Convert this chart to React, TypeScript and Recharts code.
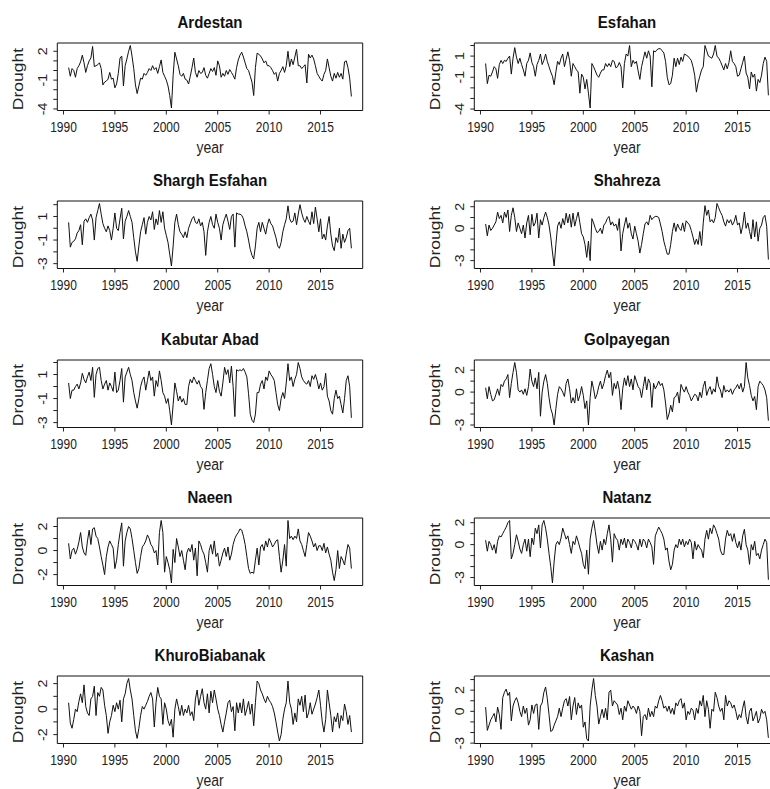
import React from 'react';
import { LineChart, Line, XAxis, YAxis, ReferenceArea } from 'recharts';

// Bimonthly drought index per station, Jul 1990 .. Jan 2018 (one row per year)
const START = 1990.5;
const STEP = 1 / 6;
const yearTicks = [1990, 1995, 2000, 2005, 2010, 2015];

const ardestan = [
  [0.3, -0.6, 0.2],
  [0.0, -0.7, 0.2, 0.5, 0.9, 1.6],
  [0.8, -0.2, 0.5, 1.0, 1.3, 2.5],
  [0.4, 0.5, 0.6, 0.8, 0.2, -1.5],
  [-1.2, -1.1, -0.9, -0.2, -0.9, -0.8],
  [-1.8, -1.4, -0.3, 1.3, 1.5, -1.6],
  [0.5, 1.2, 2.0, 2.6, 1.5, 0.2],
  [-1.5, -2.4, -1.6, -0.8, -0.9, -0.3],
  [-0.5, -0.2, 0.2, 0.0, 0.5, 0.1],
  [0.3, -0.3, 0.4, 1.1, -0.2, -0.6],
  [-1.0, -1.6, -2.6, -3.9, -0.5, 1.9],
  [1.2, 0.5, -0.4, -0.6, -0.3, -0.9],
  [-1.0, -1.4, -0.6, 0.3, 1.3, -0.2],
  [-0.7, 0.0, -0.3, -0.2, 0.3, -0.5],
  [-0.8, -0.3, 0.2, -0.1, 0.3, -0.5],
  [1.0, 0.5, -0.7, -0.3, -0.6, 0.0],
  [-0.4, 0.1, -0.2, -0.5, -0.9, 0.3],
  [1.1, 1.6, 1.9, 1.4, 0.8, 0.2],
  [0.0, -0.6, -1.2, -2.6, 0.3, 1.8],
  [1.7, 1.5, 1.2, 0.8, 1.0, 0.5],
  [0.5, 0.3, 0.0, -0.4, -0.2, -1.1],
  [-0.3, 0.0, 0.4, -0.2, 0.5, 2.0],
  [0.4, 1.2, 0.6, 1.4, 2.2, 0.5],
  [0.5, 0.2, 0.4, 0.6, -1.3, 1.7],
  [1.3, 1.6, 1.2, 0.5, -0.3, -0.6],
  [-0.9, -1.1, -0.4, 0.0, 1.2, 0.3],
  [-0.6, -1.1, -0.3, -0.8, -0.2, -0.7],
  [-0.3, -0.9, 0.9, 1.0, 0.3, -0.8],
  [-2.7],
].flat();

const esfahan = [
  [0.3, -1.6, -0.8],
  [-0.9, -0.5, 0.0, -0.2, -1.1, 0.2],
  [0.6, 0.3, 0.6, 0.5, 0.8, 1.0],
  [-0.7, 0.8, 1.8, 0.9, 0.3, 0.8],
  [0.2, -0.3, -0.9, 0.3, 0.6, 1.3],
  [0.4, 0.0, -0.9, 0.2, 0.6, 1.2],
  [0.2, 0.6, 1.2, 0.5, 0.0, -0.5],
  [-0.9, -1.7, -0.5, 0.5, 0.2, 0.8],
  [1.2, 0.0, 0.7, 1.4, 0.6, -0.9],
  [0.3, 0.0, -0.3, -0.5, -2.5, -0.7],
  [-1.0, -2.1, -1.2, -2.5, -3.9, 0.3],
  [0.0, -0.4, -0.8, -1.0, -0.6, -0.3],
  [-0.3, 0.3, 0.0, 0.3, 0.0, 0.6],
  [0.5, -0.1, 0.0, 0.4, 0.0, -2.0],
  [0.3, 1.2, 1.0, 2.0, 0.0, 0.6],
  [0.3, 0.5, -0.4, -1.2, 0.0, 0.7],
  [1.4, 0.8, 1.5, 1.0, -1.9, 1.5],
  [1.4, 1.6, 1.7, 1.7, 1.5, 1.3],
  [0.5, -1.0, -1.7, -1.6, -0.8, 0.8],
  [0.0, 0.8, 0.2, 0.9, 0.5, 1.2],
  [1.1, 1.0, 0.8, 0.6, 0.0, -0.8],
  [-2.4, -1.5, -0.9, -0.3, 0.0, 2.0],
  [1.5, 1.0, 0.9, 0.8, 1.2, 2.0],
  [1.0, 0.8, 0.5, 0.1, -0.3, 0.3],
  [-0.2, 0.4, 1.5, 0.5, 0.3, 0.0],
  [-0.9, -0.8, -0.2, 0.4, 1.0, -0.6],
  [-1.0, -2.1, -0.5, -1.0, -0.7, -2.3],
  [-1.2, -1.5, -0.8, 0.3, 0.9, 0.5],
  [-2.7],
].flat();

const shargh = [
  [0.5, -1.6, -1.2],
  [-1.1, -0.9, -0.4, -0.2, 0.3, -1.4],
  [0.6, 0.8, 0.5, 0.9, 1.2, 0.7],
  [-1.0, 0.9, 1.5, 2.1, 1.2, 0.4],
  [0.0, -0.3, 0.2, -0.2, -1.0, 0.0],
  [1.3, 0.0, -0.2, 0.8, 1.7, -0.9],
  [0.6, 1.0, 1.5, 1.0, 0.5, -0.8],
  [-2.0, -2.8, -1.5, -0.3, 0.3, 0.9],
  [-0.5, 0.5, 1.0, 0.7, 1.4, -0.1],
  [0.8, 0.3, 1.5, 0.5, 1.4, 0.0],
  [-0.6, -1.2, -2.2, -3.2, -1.5, 0.5],
  [1.2, 0.3, -0.3, -0.5, -0.8, -0.3],
  [-0.8, 0.0, 0.4, 0.8, 1.0, 0.5],
  [0.4, 0.8, 0.2, 0.5, -0.3, -2.3],
  [-0.3, 0.5, 1.0, 0.3, 0.0, 1.2],
  [0.5, 0.0, -1.0, 0.3, 0.8, 1.2],
  [0.6, -0.1, 1.0, 1.2, -1.6, 1.3],
  [1.2, 1.2, 1.1, 0.8, 0.2, -0.3],
  [-1.0, -1.8, -2.3, -2.6, -1.5, 0.0],
  [0.5, -0.3, 0.5, 0.0, -0.5, 0.3],
  [0.8, 0.4, 0.2, -0.3, -0.8, -1.5],
  [-1.7, -1.2, -0.3, 0.3, 0.8, 1.9],
  [0.8, 0.5, 0.6, 1.3, 0.3, 1.2],
  [2.0, 1.3, 0.8, 0.5, 1.0, 0.6],
  [0.3, 1.4, 0.4, 1.8, 0.8, -0.3],
  [0.8, -0.9, -0.5, -1.0, 0.2, 1.0],
  [-0.5, -1.5, -1.9, -0.8, -1.2, 0.0],
  [-1.7, -0.5, -1.2, -0.8, -0.2, 0.0],
  [-1.7],
].flat();

const shahreza = [
  [0.4, -0.7, 0.3],
  [-0.2, 0.0, 0.3, 0.6, 1.5, 0.9],
  [1.2, 0.5, 1.5, 1.0, 1.7, -0.3],
  [1.2, 1.9, 1.0, -0.3, 0.5, 0.0],
  [-0.5, 0.3, -0.9, 0.5, 1.2, -0.6],
  [1.3, 0.2, 0.5, 1.4, -0.9, 0.8],
  [0.3, 1.0, 1.5, 1.0, 0.3, -0.8],
  [-2.2, -3.5, -1.5, 0.2, 0.6, 0.0],
  [0.9, 0.3, 1.4, 0.5, 1.3, 0.1],
  [1.4, 0.2, 0.9, 1.5, 0.5, -0.5],
  [-0.8, -1.5, -2.7, -1.2, -3.0, 0.9],
  [0.5, 0.0, -0.4, -0.3, 0.0, -0.5],
  [0.3, 0.5, 0.9, 1.1, 0.3, 0.6],
  [0.2, 0.4, -0.2, 0.9, -2.1, -0.5],
  [0.3, 1.0, 0.0, 0.5, -0.5, -1.0],
  [0.2, -0.5, -1.2, -2.3, -1.5, -0.5],
  [0.4, 0.6, 0.3, 1.2, 0.8, 1.0],
  [1.1, 1.1, 1.0, 0.4, -0.3, -1.2],
  [-1.8, -2.4, -2.4, -1.5, -0.3, 0.5],
  [-0.3, 0.4, 0.0, -0.2, 0.5, -0.3],
  [0.7, 0.5, 0.3, -0.2, -0.8, -1.5],
  [-1.0, -1.5, -0.3, -1.6, 0.5, 2.1],
  [1.2, 1.7, 0.6, 0.8, 0.5, 1.0],
  [2.3, 1.9, 1.5, 1.2, 0.6, 0.2],
  [0.8, 0.5, 0.8, 0.3, 0.6, 1.2],
  [0.3, 0.5, -0.5, 0.2, 1.5, 0.0],
  [0.5, -0.3, -1.0, 0.8, -0.8, 0.6],
  [-1.2, 0.0, 0.3, 1.0, 1.2, 0.2],
  [-2.9],
].flat();

const kabutar = [
  [0.3, -1.0, -0.3],
  [-0.3, 0.0, 0.2, -0.2, 0.3, 1.1],
  [0.6, 0.3, 0.8, 1.2, 0.5, 1.6],
  [-0.9, 1.0, 1.5, 1.6, 0.5, -0.2],
  [0.2, 0.5, -0.3, 0.3, 0.0, -0.4],
  [1.2, -0.5, -0.3, 0.5, 1.5, -1.3],
  [0.8, 1.2, 1.6, 1.0, 0.5, -0.5],
  [-1.2, -1.8, -1.0, 0.0, 0.5, 0.8],
  [-0.3, 0.5, 1.3, 0.5, 0.8, -0.8],
  [0.5, 0.0, 1.3, 0.5, -0.5, -0.8],
  [-1.4, -1.0, -2.0, -3.2, -1.5, 0.3],
  [-0.4, -1.2, -0.8, -1.3, -1.0, -1.5],
  [-1.5, 0.0, 0.6, 0.3, 0.8, 0.5],
  [0.2, 0.5, 0.0, -0.2, -1.9, -0.5],
  [0.5, 1.5, 1.9, 1.0, 0.0, -0.5],
  [0.5, -0.4, -0.8, 0.3, 1.6, 1.0],
  [1.4, 0.3, 1.7, 0.0, -2.5, 1.4],
  [1.3, 1.4, 1.3, 1.5, 1.2, 0.8],
  [-0.6, -2.3, -2.8, -3.0, -2.3, -0.5],
  [-0.5, 0.2, 0.5, -0.2, 0.8, 0.5],
  [1.3, 1.0, 0.8, 0.5, -0.5, -1.5],
  [-2.0, -1.0, -0.5, -1.0, 0.3, 1.9],
  [0.5, 0.8, 0.0, 0.6, 1.0, 2.0],
  [1.5, 0.8, 0.5, 0.3, 0.2, 0.5],
  [0.0, 0.9, 0.6, 1.0, 0.5, -0.2],
  [0.3, -0.3, 0.0, 1.1, -0.8, -1.2],
  [-2.0, -2.3, -1.0, -0.3, -1.0, -0.8],
  [-1.5, -2.2, -1.0, 0.5, 0.9, 0.0],
  [-2.6],
].flat();

const golpayegan = [
  [0.4, -0.6, 0.5],
  [-0.2, -0.8, -0.7, -0.2, 0.3, -0.3],
  [0.7, 0.5, 1.0, 1.2, 1.6, -0.5],
  [0.8, 1.8, 2.7, 1.8, 0.2, 0.0],
  [0.2, -0.2, 0.3, -0.3, 0.5, 2.1],
  [1.0, 0.5, 1.3, 0.3, 1.8, -2.2],
  [0.0, 1.0, 1.6, 0.8, -0.5, -1.5],
  [-2.0, -3.0, -1.5, -0.2, 0.5, 0.3],
  [0.0, -0.4, 0.8, 1.2, 0.3, -1.0],
  [-0.5, -1.0, 0.3, -0.8, -0.3, 0.5],
  [-0.3, -1.5, -0.8, -3.0, -0.5, 1.0],
  [0.3, -0.6, -0.2, 0.5, 1.0, 0.3],
  [0.8, 1.5, 2.0, 1.3, 1.8, -0.3],
  [0.8, 0.3, 1.0, 0.2, -1.6, 0.3],
  [1.3, 0.6, 1.5, 0.5, 1.2, 0.2],
  [1.5, 1.0, 0.5, 0.3, -0.5, 0.5],
  [1.4, 0.2, 1.2, 0.8, -1.4, 0.8],
  [0.3, 0.6, 1.0, 0.6, 0.8, 0.2],
  [-1.0, -2.5, -2.0, -1.2, -1.8, -0.5],
  [-0.4, 0.0, -1.0, 0.7, 0.3, 0.0],
  [0.5, 0.0, -0.3, -0.8, -0.5, -0.2],
  [-0.3, -0.8, 0.0, -0.5, 0.5, 1.0],
  [-0.3, 0.2, 0.5, -0.2, 0.3, 0.0],
  [1.4, 0.5, 0.2, -0.5, 0.6, 0.0],
  [0.2, 0.0, 0.3, -0.2, 0.2, 0.4],
  [0.7, 0.3, 0.8, 0.0, 0.5, 2.7],
  [1.3, 0.6, -0.3, -0.8, -0.4, -1.6],
  [0.5, 1.0, 0.8, 0.6, 0.2, -0.5],
  [-2.6],
].flat();

const naeen = [
  [0.6, -0.7, 0.0],
  [0.2, -0.3, 0.1, 0.7, 1.5, 0.3],
  [-0.2, -0.4, 0.8, 1.7, 0.5, 1.8],
  [1.9, 1.2, 1.0, 0.3, -0.5, -1.2],
  [-2.0, -0.5, 0.3, 0.8, 0.5, 0.2],
  [-1.5, -0.8, 0.5, 1.5, 2.3, -1.3],
  [0.8, 1.5, 2.0, 1.8, 1.0, 0.0],
  [-1.0, -1.9, -1.5, -0.5, 0.3, 0.5],
  [0.8, 1.3, 1.0, 0.5, 0.3, -0.2],
  [0.0, -1.2, 1.5, 2.5, 1.5, -1.8],
  [-0.5, -1.0, -1.6, -2.7, 0.1, -1.0],
  [1.0, 0.3, -0.5, 0.0, -0.8, -1.6],
  [-0.2, 0.2, -0.1, 0.5, -0.8, 0.2],
  [-2.1, 0.8, 0.5, 0.0, -0.3, -1.0],
  [-1.8, 0.0, 0.5, -0.3, 0.8, -0.5],
  [-0.2, -1.3, -0.8, -0.2, 0.2, -0.5],
  [0.3, -0.8, -0.3, 0.5, 1.0, 1.3],
  [1.5, 1.8, 1.7, 1.2, 0.5, -0.5],
  [-1.5, -1.9, -1.8, -1.9, -0.8, 0.2],
  [-1.2, 0.3, 0.5, 0.0, 0.8, 0.3],
  [1.0, 0.7, 0.3, 0.5, 0.8, 0.9],
  [-0.5, -1.8, -0.8, 0.5, -1.3, 2.5],
  [1.0, 1.2, 0.9, 1.2, 1.0, 1.8],
  [0.8, 0.5, 0.0, -0.5, 0.5, 1.5],
  [1.2, 0.8, 0.3, 0.6, 0.0, 0.4],
  [0.4, 0.0, 0.6, -0.2, 0.3, -0.3],
  [-0.8, -1.8, -2.5, -1.6, 0.0, -1.5],
  [-0.5, -0.8, -1.2, -0.3, 0.5, 0.2],
  [-1.5],
].flat();

const natanz = [
  [0.4, -0.6, 0.3],
  [0.0, -0.5, 0.0, -0.8, 0.3, 0.8],
  [0.7, 1.0, 1.3, 1.6, 2.0, 2.2],
  [-1.3, -0.8, 0.0, 0.9, 0.3, -0.4],
  [-0.8, 0.0, 0.5, -0.6, 0.5, -1.1],
  [0.6, 0.0, 1.5, 1.0, 1.8, -0.3],
  [1.8, 2.2, 1.5, 0.5, -0.8, -2.0],
  [-3.5, -1.5, 0.0, 0.3, 0.0, 0.6],
  [1.5, 1.0, 0.5, 0.8, 0.0, -0.8],
  [0.3, 0.0, 0.8, 0.3, -0.3, -0.8],
  [-1.8, -2.2, -0.5, -2.7, 0.5, 1.5],
  [2.2, 1.2, 0.0, -0.8, 0.3, -0.5],
  [0.5, 0.0, 1.0, 1.8, 0.5, -1.6],
  [1.0, 0.6, 0.4, -0.5, 0.5, 0.0],
  [0.6, -0.3, 0.5, 0.2, -0.3, 0.5],
  [0.3, 0.0, -0.5, 0.5, -0.2, 0.5],
  [0.3, -0.3, 0.5, 0.2, -0.2, -1.8],
  [0.8, 1.2, 1.6, 1.3, 1.0, 0.5],
  [-0.5, -0.3, -1.5, -2.3, -1.8, -0.5],
  [0.0, -0.3, 0.5, 0.0, 0.5, -0.2],
  [0.3, 0.0, 0.5, 0.2, -1.3, 0.3],
  [-0.5, 0.0, -0.3, -0.5, -1.2, 0.5],
  [1.3, 0.5, 1.5, 1.0, 1.8, 1.5],
  [1.0, 0.5, -0.5, -0.9, -0.9, 0.5],
  [1.3, 0.8, 1.0, 0.3, 1.0, 0.2],
  [-0.3, 0.3, -0.5, 0.8, 1.4, 0.0],
  [-0.5, -1.8, 0.0, -0.5, 0.3, -1.0],
  [-0.8, -1.3, -0.5, 0.0, 0.5, 0.2],
  [-3.2],
].flat();

const khuro = [
  [0.5, -1.1, -1.5],
  [-0.8, 0.0, -0.2, 0.6, 1.2, 0.5],
  [1.9, 0.2, -0.3, -0.5, 0.8, 1.0],
  [1.8, -0.5, 1.3, 1.0, 1.7, 1.5],
  [0.3, -0.5, -1.9, -1.0, -0.5, 0.3],
  [-0.2, 0.5, 0.0, 0.7, -1.0, 0.8],
  [1.2, 2.0, 2.4, 1.5, 0.8, -0.5],
  [-1.7, -2.3, -1.5, -0.5, 0.2, 0.0],
  [0.3, 0.6, 1.0, 1.3, 0.8, -1.4],
  [0.5, 1.7, 1.0, 0.8, -1.2, 0.5],
  [0.0, -0.9, -1.3, -0.8, -2.2, 0.0],
  [0.8, 0.2, -0.5, 0.3, -0.5, 0.0],
  [-0.3, 0.3, -0.5, -0.2, -0.9, 0.8],
  [1.5, 0.3, 1.0, 1.6, 0.5, 0.0],
  [1.2, -0.3, 1.4, 0.5, 1.5, 0.8],
  [0.0, -0.5, -1.2, -1.8, -1.0, -0.3],
  [0.5, 0.7, -0.2, 0.2, -1.7, 0.5],
  [-0.3, 0.5, -0.3, 0.8, -0.5, 0.0],
  [0.6, -0.4, 0.4, -1.3, 0.5, 2.2],
  [2.0, 1.5, 1.2, 0.8, 0.5, 1.0],
  [0.7, 0.5, 0.2, -0.3, -1.0, -1.8],
  [-2.5, -2.0, -0.8, 0.0, 0.5, 2.2],
  [0.5, 0.0, -1.2, -0.3, -1.0, 0.8],
  [0.3, 1.0, -0.2, 1.1, -0.7, -0.3],
  [0.5, -0.4, 0.0, 0.4, 0.9, 1.5],
  [0.3, -1.0, -1.8, -0.8, 1.5, 0.5],
  [-0.5, -1.8, -0.6, -1.0, -0.3, -1.5],
  [-0.5, -0.9, 0.4, -0.2, -1.2, -0.5],
  [-1.8],
].flat();

const kashan = [
  [0.4, -1.8, -1.3],
  [-0.8, -0.5, -0.2, -1.0, 0.4, -0.3],
  [-1.7, 1.3, 1.8, 2.1, 1.5, 1.8],
  [-0.9, 0.5, 1.0, 1.3, 0.8, 0.0],
  [-0.5, 0.5, -0.2, 0.3, -1.3, -0.8],
  [0.6, -0.2, 0.6, 0.7, -1.7, 0.5],
  [0.8, 1.8, 2.3, 1.2, -0.3, -1.9],
  [-1.8, -1.3, -0.9, -0.5, 0.3, -0.5],
  [0.3, 1.0, 1.2, 0.5, 1.4, -0.8],
  [0.5, 1.3, -0.3, 0.8, 0.3, 0.6],
  [-1.5, -1.0, -2.6, -2.8, 0.5, 2.0],
  [3.1, 1.5, 0.5, -1.2, -0.5, 0.2],
  [-0.6, 0.3, -0.8, 1.8, 2.0, 0.5],
  [1.0, 0.8, 0.6, -0.3, 0.3, -0.8],
  [0.5, 0.0, 1.0, 0.6, 0.2, 0.5],
  [0.3, -0.2, 0.5, 0.0, -2.3, -0.5],
  [-0.3, -0.8, 0.3, -0.5, 0.0, -0.5],
  [0.5, 0.3, 1.0, 1.5, 1.0, 0.3],
  [0.5, 0.0, 0.5, -0.2, 0.3, -0.3],
  [0.8, 0.5, 1.0, 1.2, 0.3, 0.8],
  [-0.8, 0.0, -0.3, 0.3, 0.1, -0.8],
  [0.3, -0.2, 1.0, 0.5, 1.5, -0.5],
  [1.0, 0.2, -1.6, 0.2, 0.0, 1.8],
  [1.3, 0.5, 0.0, 0.3, -0.8, 1.5],
  [0.5, 1.0, 0.8, 0.3, 0.6, 0.0],
  [-0.8, -0.3, -0.6, 0.3, 1.0, -0.5],
  [-1.2, 0.0, 0.3, -0.9, -0.5, 0.0],
  [-1.1, -0.7, 0.2, -0.2, 0.0, -0.8],
  [-2.5],
].flat();

// panel order: left column, right column, row by row
const stationNames = [
  'Ardestan', 'Esfahan', 'Shargh Esfahan', 'Shahreza', 'Kabutar Abad',
  'Golpayegan', 'Naeen', 'Natanz', 'KhuroBiabanak', 'Kashan',
];
const stationValues = [ardestan, esfahan, shargh, shahreza, kabutar, golpayegan, naeen, natanz, khuro, kashan];
const yLabelled = [
  [2, -1, -4], [1, -1, -4], [1, -1, -3], [2, 0, -3], [1, -1, -3],
  [2, 0, -3], [2, 0, -2], [2, 0, -3], [2, 0, -2], [2, 0, -3],
];

const FONT = '"Liberation Sans", Arial, sans-serif';
const STRETCH = 1.18; // the source image is a little taller than wide
const ROW_H = 158.3;
const COL_X = 417;
const CHART_W = 375;
const CHART_H = 158;
const BOX_TOP = 43;
const BOX_H = 67.5;
const BOX_LEFT = 57.3;
const BOX_W = 305.4;
const Y_AXIS_W = 40;
const X_AXIS_H = 40;

const pad = (lo: number, hi: number) => {
  const r = hi - lo;
  return [lo - 0.04 * r, hi + 0.04 * r];
};

const XTick = (props: any) => {
  const { x, y, payload } = props;
  return (
    <text
      x={0}
      y={0}
      dy="0.71em"
      transform={`translate(${x}, ${y}) scale(1, ${STRETCH})`}
      textAnchor="middle"
      fontSize={12}
      fontFamily={FONT}
      fill="#222"
    >
      {payload.value}
    </text>
  );
};

const YTick = (props: any) => {
  const { x, y, payload, labels } = props;
  if (!labels.includes(payload.value)) return null;
  return (
    <text
      x={0}
      y={0}
      transform={`translate(${x}, ${y}) rotate(-90) scale(${STRETCH}, 1)`}
      textAnchor="middle"
      fontSize={12}
      fontFamily={FONT}
      fill="#222"
    >
      {payload.value}
    </text>
  );
};

const Panel = ({ index }: { index: number }) => {
  const values = stationValues[index];
  const data = values.map((v, i) => ({ t: START + i * STEP, v }));
  const [xMin, xMax] = pad(data[0].t, data[data.length - 1].t);
  const [yMin, yMax] = pad(Math.min(...values), Math.max(...values));
  const yTicks: number[] = [];
  for (let k = Math.ceil(yMin); k <= Math.floor(yMax); k++) yTicks.push(k);
  const labels = yLabelled[index];

  const col = index % 2;
  const row = Math.floor(index / 2);
  const left = col * COL_X;
  const top = row * ROW_H;
  const centerX = left + BOX_LEFT + BOX_W / 2;

  return (
    <>
      <div style={{
        position: 'absolute', left: centerX, top: top + 22,
        transform: 'translate(-50%, -50%) scaleY(1.1)',
        fontFamily: FONT, fontWeight: 'bold', fontSize: 15, color: '#111', whiteSpace: 'nowrap',
      }}>
        {stationNames[index]}
      </div>
      <div style={{ position: 'absolute', left, top }}>
        <LineChart
          width={CHART_W}
          height={CHART_H}
          data={data}
          margin={{
            top: BOX_TOP,
            left: BOX_LEFT - Y_AXIS_W,
            right: CHART_W - BOX_LEFT - BOX_W,
            bottom: CHART_H - BOX_TOP - BOX_H - X_AXIS_H,
          }}
        >
          <XAxis
            dataKey="t"
            type="number"
            domain={[xMin, xMax]}
            ticks={yearTicks}
            interval={0}
            allowDataOverflow
            axisLine={false}
            tickSize={4}
            tickMargin={7}
            tickLine={{ stroke: '#222' }}
            height={X_AXIS_H}
            tick={(p: any) => <XTick {...p} />}
          />
          <YAxis
            type="number"
            domain={[yMin, yMax]}
            ticks={yTicks}
            interval={0}
            allowDataOverflow
            axisLine={false}
            tickSize={4}
            tickMargin={6}
            tickLine={{ stroke: '#222' }}
            width={Y_AXIS_W}
            tick={(p: any) => <YTick {...p} labels={labels} />}
          />
          <ReferenceArea
            x1={xMin}
            x2={xMax}
            y1={yMin}
            y2={yMax}
            fill="none"
            stroke="#111"
            strokeWidth={1}
            ifOverflow="visible"
          />
          <Line
            type="linear"
            dataKey="v"
            stroke="#111"
            strokeWidth={1}
            dot={false}
            isAnimationActive={false}
          />
        </LineChart>
      </div>
      <div style={{
        position: 'absolute', left: left + 18, top: top + BOX_TOP + BOX_H / 2 + 2,
        transform: `translate(-50%, -50%) rotate(-90deg) scaleX(1.25)`,
        fontFamily: FONT, fontSize: 14, color: '#222', whiteSpace: 'nowrap',
      }}>
        Drought
      </div>
      <div style={{
        position: 'absolute', left: centerX, top: top + 147,
        transform: `translate(-50%, -50%) scaleY(${STRETCH})`,
        fontFamily: FONT, fontSize: 14, color: '#222', whiteSpace: 'nowrap',
      }}>
        year
      </div>
    </>
  );
};

export default function App() {
  return (
    <div style={{
      position: 'absolute', left: 0, top: 0, width: 770, height: 789,
      overflow: 'hidden', background: '#fff',
    }}>
      {stationNames.map((_, i) => <Panel key={i} index={i} />)}
    </div>
  );
}
